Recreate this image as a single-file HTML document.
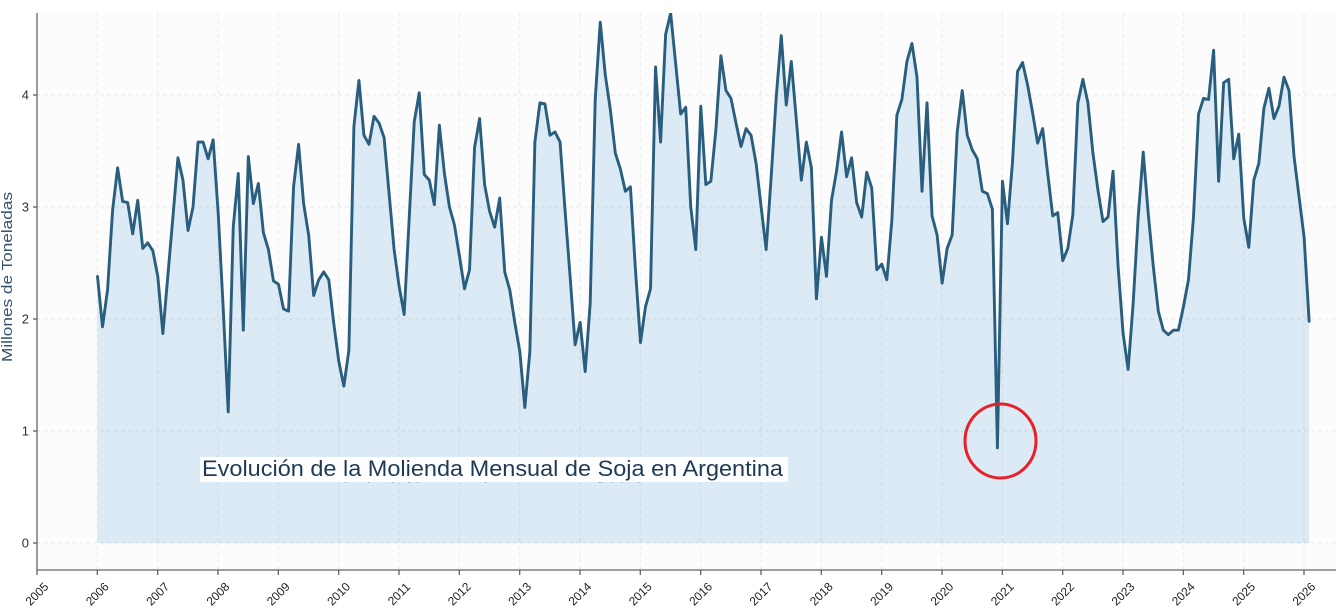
<!DOCTYPE html>
<html><head><meta charset="utf-8">
<style>
html,body{margin:0;padding:0;background:#fff;}
svg{display:block;font-family:"Liberation Sans",sans-serif;}
</style></head>
<body>
<svg width="1336" height="614" viewBox="0 0 1336 614" xmlns="http://www.w3.org/2000/svg">
<defs>
<clipPath id="ax"><rect x="37" y="13" width="1299" height="557"/></clipPath>
<clipPath id="sub"><rect x="200" y="478" width="590" height="5"/></clipPath>
</defs>
<rect x="0" y="0" width="1336" height="614" fill="#fff"/>
<rect x="37" y="13" width="1299" height="557" fill="#fcfcfc"/>
<g clip-path="url(#ax)">
<g transform="translate(97.5,543) scale(5.0275,-112)">
<polygon fill="#dbeaf5" stroke="none" points="0,0 0,2.38 1,1.93 2,2.26 3,2.97 4,3.35 5,3.05 6,3.04 7,2.76 8,3.06 9,2.63 10,2.68 11,2.61 12,2.38 13,1.87 14,2.39 15,2.91 16,3.44 17,3.24 18,2.79 19,3.00 20,3.58 21,3.58 22,3.43 23,3.60 24,2.95 25,2.1 26,1.17 27,2.82 28,3.30 29,1.90 30,3.45 31,3.03 32,3.21 33,2.77 34,2.62 35,2.34 36,2.31 37,2.09 38,2.07 39,3.18 40,3.56 41,3.03 42,2.75 43,2.21 44,2.35 45,2.42 46,2.35 47,1.96 48,1.62 49,1.40 50,1.72 51,3.72 52,4.13 53,3.64 54,3.56 55,3.81 56,3.75 57,3.62 58,3.12 59,2.62 60,2.29 61,2.04 62,2.9 63,3.76 64,4.02 65,3.29 66,3.24 67,3.02 68,3.73 69,3.30 70,3.00 71,2.84 72,2.56 73,2.27 74,2.44 75,3.53 76,3.79 77,3.20 78,2.96 79,2.82 80,3.08 81,2.42 82,2.26 83,1.97 84,1.71 85,1.21 86,1.71 87,3.58 88,3.93 89,3.92 90,3.64 91,3.67 92,3.58 93,2.97 94,2.38 95,1.77 96,1.97 97,1.53 98,2.14 99,3.96 100,4.65 101,4.18 102,3.87 103,3.48 104,3.34 105,3.14 106,3.18 107,2.44 108,1.79 109,2.11 110,2.27 111,4.25 112,3.58 113,4.54 114,4.73 115,4.28 116,3.83 117,3.89 118,3.00 119,2.62 120,3.90 121,3.20 122,3.23 123,3.69 124,4.35 125,4.04 126,3.97 127,3.75 128,3.54 129,3.70 130,3.64 131,3.39 132,3.00 133,2.62 134,3.27 135,3.98 136,4.53 137,3.91 138,4.30 139,3.78 140,3.24 141,3.58 142,3.35 143,2.18 144,2.73 145,2.38 146,3.06 147,3.32 148,3.67 149,3.27 150,3.44 151,3.04 152,2.91 153,3.31 154,3.17 155,2.44 156,2.49 157,2.35 158,2.88 159,3.82 160,3.96 161,4.30 162,4.46 163,4.16 164,3.14 165,3.93 166,2.92 167,2.75 168,2.32 169,2.63 170,2.75 171,3.67 172,4.04 173,3.64 174,3.51 175,3.43 176,3.14 177,3.12 178,2.98 179,0.85 180,3.23 181,2.85 182,3.40 183,4.21 184,4.29 185,4.09 186,3.84 187,3.57 188,3.70 189,3.30 190,2.92 191,2.95 192,2.52 193,2.63 194,2.93 195,3.93 196,4.14 197,3.93 198,3.48 199,3.15 200,2.87 201,2.91 202,3.32 203,2.47 204,1.87 205,1.55 206,2.14 207,2.91 208,3.49 209,2.94 210,2.47 211,2.07 212,1.90 213,1.86 214,1.90 215,1.90 216,2.11 217,2.35 218,2.91 219,3.83 220,3.97 221,3.96 222,4.40 223,3.23 224,4.11 225,4.14 226,3.43 227,3.65 228,2.90 229,2.64 230,3.24 231,3.39 232,3.88 233,4.06 234,3.79 235,3.90 236,4.16 237,4.04 238,3.45 239,3.09 240,2.73 241,1.98 241,0"/>
</g>
<!-- grid -->
<g stroke="rgba(0,0,0,0.075)" stroke-width="1" stroke-dasharray="4,3" fill="none">
<line x1="37" y1="543" x2="1336" y2="543"/>
<line x1="37" y1="431" x2="1336" y2="431"/>
<line x1="37" y1="319" x2="1336" y2="319"/>
<line x1="37" y1="207" x2="1336" y2="207"/>
<line x1="37" y1="95" x2="1336" y2="95"/>
<line x1="97.3" y1="13" x2="97.3" y2="570"/>
<line x1="157.7" y1="13" x2="157.7" y2="570"/>
<line x1="218" y1="13" x2="218" y2="570"/>
<line x1="278.3" y1="13" x2="278.3" y2="570"/>
<line x1="338.7" y1="13" x2="338.7" y2="570"/>
<line x1="399" y1="13" x2="399" y2="570"/>
<line x1="459.3" y1="13" x2="459.3" y2="570"/>
<line x1="519.7" y1="13" x2="519.7" y2="570"/>
<line x1="580" y1="13" x2="580" y2="570"/>
<line x1="640.3" y1="13" x2="640.3" y2="570"/>
<line x1="700.7" y1="13" x2="700.7" y2="570"/>
<line x1="761" y1="13" x2="761" y2="570"/>
<line x1="821.3" y1="13" x2="821.3" y2="570"/>
<line x1="881.7" y1="13" x2="881.7" y2="570"/>
<line x1="942" y1="13" x2="942" y2="570"/>
<line x1="1002.3" y1="13" x2="1002.3" y2="570"/>
<line x1="1062.7" y1="13" x2="1062.7" y2="570"/>
<line x1="1123" y1="13" x2="1123" y2="570"/>
<line x1="1183.3" y1="13" x2="1183.3" y2="570"/>
<line x1="1243.7" y1="13" x2="1243.7" y2="570"/>
<line x1="1304" y1="13" x2="1304" y2="570"/>
</g>
<g transform="translate(97.5,543) scale(5.0275,-112)">
<polyline fill="none" stroke="#2a5e7e" stroke-width="2.9" vector-effect="non-scaling-stroke" stroke-linejoin="round" stroke-linecap="round" points="0,2.38 1,1.93 2,2.26 3,2.97 4,3.35 5,3.05 6,3.04 7,2.76 8,3.06 9,2.63 10,2.68 11,2.61 12,2.38 13,1.87 14,2.39 15,2.91 16,3.44 17,3.24 18,2.79 19,3.00 20,3.58 21,3.58 22,3.43 23,3.60 24,2.95 25,2.1 26,1.17 27,2.82 28,3.30 29,1.90 30,3.45 31,3.03 32,3.21 33,2.77 34,2.62 35,2.34 36,2.31 37,2.09 38,2.07 39,3.18 40,3.56 41,3.03 42,2.75 43,2.21 44,2.35 45,2.42 46,2.35 47,1.96 48,1.62 49,1.40 50,1.72 51,3.72 52,4.13 53,3.64 54,3.56 55,3.81 56,3.75 57,3.62 58,3.12 59,2.62 60,2.29 61,2.04 62,2.9 63,3.76 64,4.02 65,3.29 66,3.24 67,3.02 68,3.73 69,3.30 70,3.00 71,2.84 72,2.56 73,2.27 74,2.44 75,3.53 76,3.79 77,3.20 78,2.96 79,2.82 80,3.08 81,2.42 82,2.26 83,1.97 84,1.71 85,1.21 86,1.71 87,3.58 88,3.93 89,3.92 90,3.64 91,3.67 92,3.58 93,2.97 94,2.38 95,1.77 96,1.97 97,1.53 98,2.14 99,3.96 100,4.65 101,4.18 102,3.87 103,3.48 104,3.34 105,3.14 106,3.18 107,2.44 108,1.79 109,2.11 110,2.27 111,4.25 112,3.58 113,4.54 114,4.73 115,4.28 116,3.83 117,3.89 118,3.00 119,2.62 120,3.90 121,3.20 122,3.23 123,3.69 124,4.35 125,4.04 126,3.97 127,3.75 128,3.54 129,3.70 130,3.64 131,3.39 132,3.00 133,2.62 134,3.27 135,3.98 136,4.53 137,3.91 138,4.30 139,3.78 140,3.24 141,3.58 142,3.35 143,2.18 144,2.73 145,2.38 146,3.06 147,3.32 148,3.67 149,3.27 150,3.44 151,3.04 152,2.91 153,3.31 154,3.17 155,2.44 156,2.49 157,2.35 158,2.88 159,3.82 160,3.96 161,4.30 162,4.46 163,4.16 164,3.14 165,3.93 166,2.92 167,2.75 168,2.32 169,2.63 170,2.75 171,3.67 172,4.04 173,3.64 174,3.51 175,3.43 176,3.14 177,3.12 178,2.98 179,0.85 180,3.23 181,2.85 182,3.40 183,4.21 184,4.29 185,4.09 186,3.84 187,3.57 188,3.70 189,3.30 190,2.92 191,2.95 192,2.52 193,2.63 194,2.93 195,3.93 196,4.14 197,3.93 198,3.48 199,3.15 200,2.87 201,2.91 202,3.32 203,2.47 204,1.87 205,1.55 206,2.14 207,2.91 208,3.49 209,2.94 210,2.47 211,2.07 212,1.90 213,1.86 214,1.90 215,1.90 216,2.11 217,2.35 218,2.91 219,3.83 220,3.97 221,3.96 222,4.40 223,3.23 224,4.11 225,4.14 226,3.43 227,3.65 228,2.90 229,2.64 230,3.24 231,3.39 232,3.88 233,4.06 234,3.79 235,3.90 236,4.16 237,4.04 238,3.45 239,3.09 240,2.73 241,1.98"/>
</g>
</g>
<!-- spines -->
<line x1="37" y1="13" x2="37" y2="570.5" stroke="#666" stroke-width="1.3"/>
<line x1="36.5" y1="570" x2="1336" y2="570" stroke="#666" stroke-width="1.3"/>
<!-- y ticks -->
<g stroke="#555" stroke-width="1.2">
<line x1="33" y1="543" x2="37" y2="543"/>
<line x1="33" y1="431" x2="37" y2="431"/>
<line x1="33" y1="319" x2="37" y2="319"/>
<line x1="33" y1="207" x2="37" y2="207"/>
<line x1="33" y1="95" x2="37" y2="95"/>
</g>
<g font-size="13" fill="#333" text-anchor="end">
<text x="29" y="547.5">0</text>
<text x="29" y="435.5">1</text>
<text x="29" y="323.5">2</text>
<text x="29" y="211.5">3</text>
<text x="29" y="99.5">4</text>
</g>
<!-- x ticks -->
<g stroke="#555" stroke-width="1.2">
<line x1="37" y1="570" x2="37" y2="575"/>
<line x1="97.3" y1="570" x2="97.3" y2="575"/>
<line x1="157.7" y1="570" x2="157.7" y2="575"/>
<line x1="218" y1="570" x2="218" y2="575"/>
<line x1="278.3" y1="570" x2="278.3" y2="575"/>
<line x1="338.7" y1="570" x2="338.7" y2="575"/>
<line x1="399" y1="570" x2="399" y2="575"/>
<line x1="459.3" y1="570" x2="459.3" y2="575"/>
<line x1="519.7" y1="570" x2="519.7" y2="575"/>
<line x1="580" y1="570" x2="580" y2="575"/>
<line x1="640.3" y1="570" x2="640.3" y2="575"/>
<line x1="700.7" y1="570" x2="700.7" y2="575"/>
<line x1="761" y1="570" x2="761" y2="575"/>
<line x1="821.3" y1="570" x2="821.3" y2="575"/>
<line x1="881.7" y1="570" x2="881.7" y2="575"/>
<line x1="942" y1="570" x2="942" y2="575"/>
<line x1="1002.3" y1="570" x2="1002.3" y2="575"/>
<line x1="1062.7" y1="570" x2="1062.7" y2="575"/>
<line x1="1123" y1="570" x2="1123" y2="575"/>
<line x1="1183.3" y1="570" x2="1183.3" y2="575"/>
<line x1="1243.7" y1="570" x2="1243.7" y2="575"/>
<line x1="1304" y1="570" x2="1304" y2="575"/>
</g>
<g font-size="12" fill="#222" text-anchor="middle" dominant-baseline="central">
<text transform="translate(37,594) rotate(-45)">2005</text>
<text transform="translate(97.3,594) rotate(-45)">2006</text>
<text transform="translate(157.7,594) rotate(-45)">2007</text>
<text transform="translate(218,594) rotate(-45)">2008</text>
<text transform="translate(278.3,594) rotate(-45)">2009</text>
<text transform="translate(338.7,594) rotate(-45)">2010</text>
<text transform="translate(399,594) rotate(-45)">2011</text>
<text transform="translate(459.3,594) rotate(-45)">2012</text>
<text transform="translate(519.7,594) rotate(-45)">2013</text>
<text transform="translate(580,594) rotate(-45)">2014</text>
<text transform="translate(640.3,594) rotate(-45)">2015</text>
<text transform="translate(700.7,594) rotate(-45)">2016</text>
<text transform="translate(761,594) rotate(-45)">2017</text>
<text transform="translate(821.3,594) rotate(-45)">2018</text>
<text transform="translate(881.7,594) rotate(-45)">2019</text>
<text transform="translate(942,594) rotate(-45)">2020</text>
<text transform="translate(1002.3,594) rotate(-45)">2021</text>
<text transform="translate(1062.7,594) rotate(-45)">2022</text>
<text transform="translate(1123,594) rotate(-45)">2023</text>
<text transform="translate(1183.3,594) rotate(-45)">2024</text>
<text transform="translate(1243.7,594) rotate(-45)">2025</text>
<text transform="translate(1304,594) rotate(-45)">2026</text>
</g>
<!-- y label -->
<text transform="translate(12,277) rotate(-90)" font-size="14.5" fill="#35536f" text-anchor="middle" textLength="170" lengthAdjust="spacingAndGlyphs">Millones de Toneladas</text>
<!-- title box -->
<rect x="200" y="457" width="588" height="25" fill="#ffffff"/>
<text x="202" y="476" font-size="22" fill="#1f3a56" textLength="581" lengthAdjust="spacingAndGlyphs">Evolución de la Molienda Mensual de Soja en Argentina</text>
<g clip-path="url(#sub)">
<text x="492" y="494" font-size="16" fill="#555" text-anchor="middle" textLength="300" lengthAdjust="spacingAndGlyphs">(Serie Histórica Mensual · Fuente: Datos Oficiales)</text>
</g>
<!-- red circle -->
<ellipse cx="1000.5" cy="441" rx="35.5" ry="37" fill="none" stroke="#e8202a" stroke-width="3"/>
</svg>
</body></html>
